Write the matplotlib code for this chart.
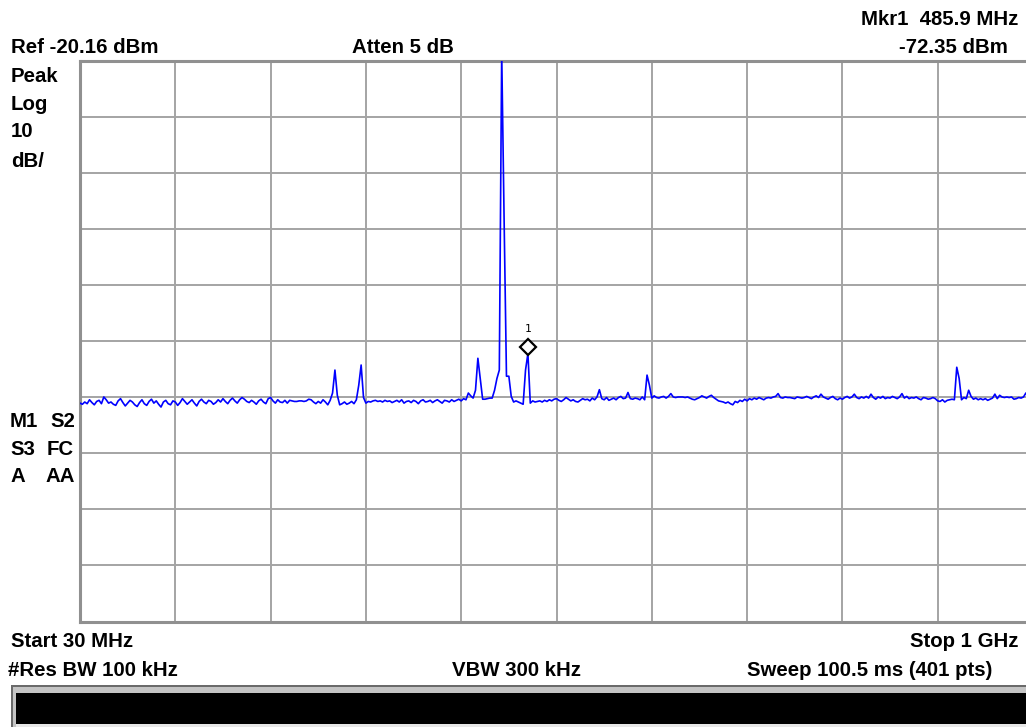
import numpy as np
import matplotlib
matplotlib.use("Agg")
import matplotlib.pyplot as plt
from matplotlib.patches import Rectangle
from matplotlib.transforms import offset_copy

# instrument settings
ref_level = -20.16
db_per_div = 10
start_mhz = 30
stop_mhz = 1000
n_pts = 401
mkr_freq = 485.9
mkr_level = -72.35

# trace values in dBm (401 pts)
trace = [
    -81.2, -81.4, -81.0, -81.3, -80.6, -81.1, -81.5, -80.9, -80.7, -81.3,
    -80.1, -80.6, -81.2, -81.0, -81.4, -81.6, -80.8, -80.4, -81.1, -81.7,
    -81.2, -80.7, -81.0, -81.5, -81.8, -81.1, -80.6, -81.3, -81.6, -80.9,
    -80.5, -81.2, -80.8, -81.4, -81.9, -81.0, -80.7, -81.3, -81.5, -80.8,
    -81.0, -81.6, -81.1, -80.4, -80.9, -81.4, -81.0, -80.6, -81.2, -81.7,
    -80.9, -80.5, -81.0, -81.3, -80.7, -80.9, -81.4, -81.1, -80.6, -81.0,
    -80.4, -80.9, -81.3, -80.7, -80.3, -80.8, -81.2, -80.6, -80.2, -80.5,
    -80.9, -81.1, -80.7, -81.0, -81.4, -80.8, -80.5, -81.0, -81.3, -80.4,
    -80.2, -80.8, -81.2, -80.6, -81.0, -81.1, -80.7, -81.2, -80.7, -80.8,
    -80.9, -80.9, -80.8, -80.8, -80.9, -80.8, -80.5, -80.6, -81.0, -81.3,
    -80.9, -81.2, -80.6, -81.0, -81.5, -80.7, -79.4, -75.3, -79.8, -81.5,
    -81.3, -81.0, -81.4, -81.2, -80.9, -81.3, -80.6, -78.0, -74.4, -80.2,
    -81.2, -80.9, -81.0, -80.8, -80.7, -80.9, -80.8, -81.0, -80.7, -80.9,
    -80.8, -81.1, -80.9, -80.7, -81.0, -80.6, -81.2, -80.9, -80.8, -81.1,
    -80.7, -80.9, -81.3, -80.8, -80.6, -81.0, -80.9, -80.7, -81.1, -80.8,
    -80.6, -80.9, -81.2, -80.7, -80.8, -81.0, -80.6, -80.9, -80.7, -80.5,
    -80.8, -80.4, -80.6, -79.4, -79.9, -80.3, -78.9, -73.2, -76.8, -80.5,
    -80.5, -80.4, -80.3, -80.3, -78.9, -76.8, -75.3, -18.5, -48.2, -76.4,
    -76.4, -80.0, -81.0, -80.8, -81.0, -81.2, -81.4, -75.3, -72.35, -81.2,
    -80.8, -81.0, -80.9, -80.8, -81.0, -80.7, -80.9, -80.6, -80.8, -80.5,
    -80.4, -80.7, -80.9, -80.6, -80.2, -80.5, -80.8, -80.6, -80.9, -81.0,
    -80.7, -80.4, -80.6, -80.5, -80.8, -80.3, -80.6, -80.1, -78.8, -80.4,
    -80.6, -80.2, -80.7, -80.5, -80.3, -80.6, -80.2, -80.0, -80.4, -80.3,
    -79.3, -80.4, -80.5, -80.3, -80.4, -80.6, -80.1, -80.6, -76.2, -78.0,
    -80.3, -79.9, -80.2, -80.3, -80.1, -80.0, -80.3, -80.0, -79.5, -80.1,
    -80.2, -80.1, -80.1, -80.1, -80.2, -80.1, -80.3, -80.5, -80.6, -80.4,
    -80.2, -79.9, -80.1, -80.3, -80.0, -79.8, -80.2, -80.5, -80.8, -80.9,
    -81.0, -81.2, -81.0, -81.3, -81.5, -80.9, -81.1, -80.7, -80.9, -80.5,
    -80.8, -80.4, -80.6, -80.3, -80.5, -80.2, -80.4, -80.6, -80.3, -80.2,
    -80.3, -80.1, -80.0, -79.5, -80.2, -80.3, -80.1, -80.2, -80.2, -80.3,
    -80.4, -80.1, -80.2, -80.3, -80.2, -80.0, -80.2, -80.4, -80.1, -79.9,
    -80.2, -79.6, -80.1, -80.3, -80.5, -80.2, -80.0, -80.4, -80.6, -80.3,
    -80.5, -80.2, -80.0, -80.3, -80.1, -79.6, -80.2, -80.4, -80.1, -80.3,
    -80.0, -80.3, -79.6, -80.2, -80.5, -80.1, -80.3, -80.0, -80.4, -80.2,
    -80.3, -80.0, -80.2, -80.4, -80.1, -79.5, -80.3, -80.0, -80.4, -80.2,
    -80.3, -80.1, -80.4, -80.6, -80.2, -80.3, -80.5, -80.4, -80.2, -80.4,
    -80.8, -80.9, -80.6, -81.0, -80.7, -80.6, -80.5, -80.6, -74.8, -76.8,
    -80.6, -80.2, -80.4, -78.9, -80.0, -80.5, -80.3, -80.6, -80.4, -80.6,
    -80.4, -80.7, -80.5, -80.3, -79.6, -80.4, -79.8, -80.1, -80.2, -80.1,
    -80.2, -80.1, -80.5, -80.4, -80.2, -80.3, -80.1, -79.4, -80.2, -80.3,
    -80.2,
]
assert len(trace) == n_pts

W, H = 1026, 727
fig = plt.figure(figsize=(W / 100, H / 100), dpi=100, facecolor="white")
plt.rcParams["font.family"] = ["Liberation Sans", "DejaVu Sans"]

# graticule area in pixels
gx0, gx1, gy0, gy1 = 80, 1033, 61, 621.5
ax = fig.add_axes([gx0 / W, 1 - gy1 / H, (gx1 - gx0) / W, (gy1 - gy0) / H])

freq = np.linspace(start_mhz, stop_mhz, n_pts)
bottom = ref_level - 10 * db_per_div
ax.set_xlim(start_mhz, stop_mhz)
ax.set_ylim(bottom, ref_level)
ax.set_xticks(np.linspace(start_mhz, stop_mhz, 11))
ax.set_yticks(np.linspace(bottom, ref_level, 11))
ax.tick_params(length=0, labelbottom=False, labelleft=False)
ax.grid(True, color="#a4a4a4", lw=1.4)
for s in ax.spines.values():
    s.set_color("#909090")
    s.set_linewidth(2.2)

ax.plot(freq, trace, color="#0000ff", lw=1.2, zorder=3)

# marker 1
dia = offset_copy(ax.transData, fig=fig, x=0, y=7, units="dots")
ax.plot([mkr_freq], [mkr_level], marker="D", ms=8.5, mfc="white", mec="black",
        mew=1.6, ls="none", transform=dia, zorder=4)
lab = offset_copy(ax.transData, fig=fig, x=0, y=25, units="dots")
ax.text(mkr_freq, mkr_level, "1", transform=lab, ha="center", va="center",
        fontsize=8, family="DejaVu Sans Mono", zorder=4)


def put(x, y, s, ha="left"):
    # x, y in image pixels, y = baseline
    fig.text(x / W, 1 - y / H, s, ha=ha, va="baseline", fontsize=14.7,
             fontweight="bold", color="black")


put(11, 53, "Ref -20.16 dBm")
put(352, 53, "Atten 5 dB")
put(1018, 25, "Mkr1  485.9 MHz", ha="right")
put(1008, 53, "-72.35 dBm", ha="right")
put(11, 82, "Peak")
put(11, 110, "Log")
put(11, 137, "10")
put(11, 167, "dB/")
put(10, 427, "M1")
put(50, 427, "S2")
put(10, 455, "S3")
put(47, 455, "FC")
put(10, 482, "A")
put(45, 482, "AA")
put(11, 647, "Start 30 MHz")
put(1018, 647, "Stop 1 GHz", ha="right")
put(8, 676, "#Res BW 100 kHz")
put(452, 676, "VBW 300 kHz")
put(747, 676, "Sweep 100.5 ms (401 pts)")

# status bar at the bottom


def box(x0, y0, x1, y1, c):
    fig.add_artist(Rectangle((x0 / W, 1 - y1 / H), (x1 - x0) / W, (y1 - y0) / H,
                             transform=fig.transFigure, color=c, lw=0))


box(11, 685, W, H, "#6a6a6a")
box(13, 687, W, H, "#c4c4c4")
box(16, 693, W, 723.5, "black")
box(16, 723.5, W, H, "#e8e8e8")

fig.savefig("out.png", dpi=100, facecolor="white")
